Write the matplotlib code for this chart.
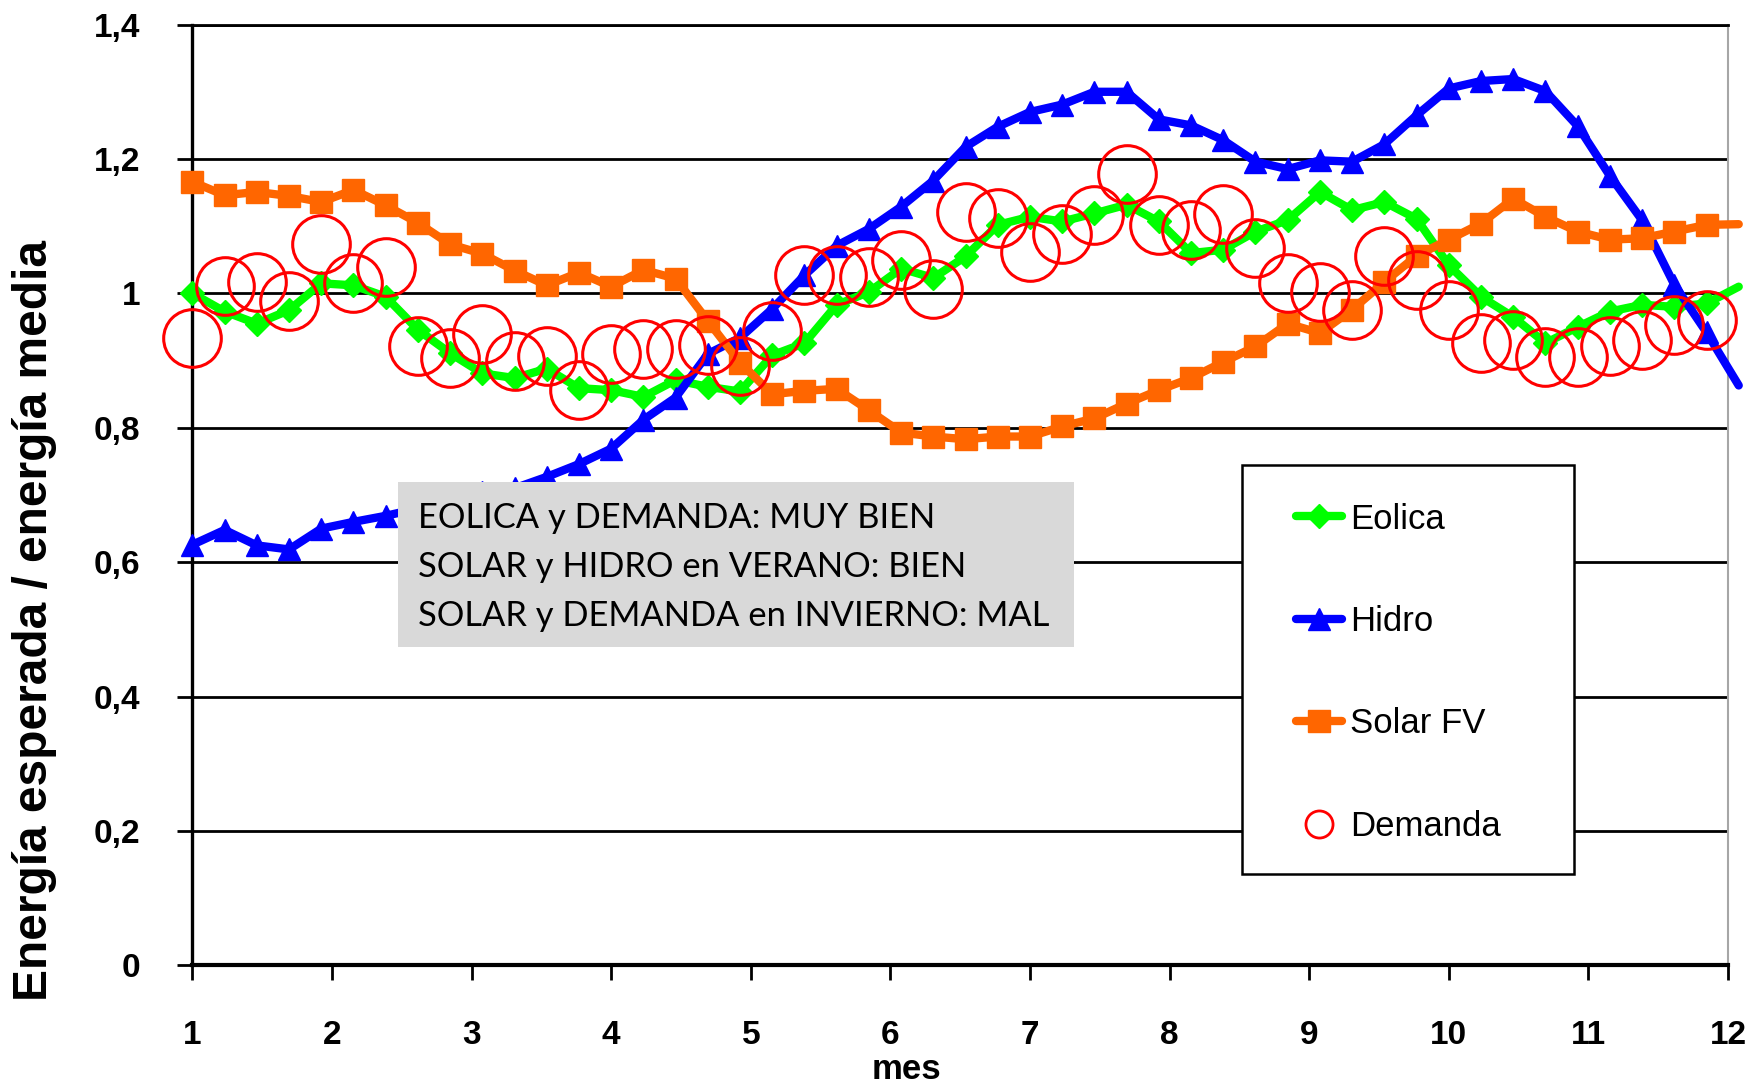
import numpy as np
import matplotlib
matplotlib.use("Agg")
import matplotlib.pyplot as plt
from matplotlib.lines import Line2D
from matplotlib.patches import Rectangle

# Weekly values (52 weeks per year) expressed on a month axis
semanas = np.arange(49)
meses = 1 + semanas * 12 / 52

eolica = [1.000, 0.973, 0.955, 0.975, 1.015, 1.012, 0.995, 0.946, 0.911, 0.881,
          0.874, 0.888, 0.859, 0.856, 0.846, 0.871, 0.861, 0.854, 0.908, 0.926,
          0.983, 1.002, 1.037, 1.023, 1.055, 1.102, 1.114, 1.107, 1.119, 1.132,
          1.107, 1.060, 1.065, 1.092, 1.109, 1.151, 1.124, 1.136, 1.111, 1.042,
          0.995, 0.965, 0.926, 0.950, 0.973, 0.983, 0.980, 0.985, 1.010]

hidro = [0.626, 0.648, 0.625, 0.619, 0.650, 0.660, 0.669, 0.680, 0.692, 0.705,
         0.710, 0.727, 0.746, 0.769, 0.812, 0.845, 0.910, 0.934, 0.977, 1.027,
         1.071, 1.096, 1.129, 1.168, 1.218, 1.248, 1.270, 1.281, 1.300, 1.300,
         1.259, 1.250, 1.228, 1.196, 1.185, 1.198, 1.196, 1.222, 1.265, 1.305,
         1.316, 1.319, 1.301, 1.249, 1.175, 1.109, 1.013, 0.942, 0.863]

solar_fv = [1.166, 1.146, 1.151, 1.145, 1.136, 1.154, 1.131, 1.105, 1.073, 1.059,
            1.034, 1.012, 1.031, 1.010, 1.035, 1.022, 0.959, 0.897, 0.850, 0.855,
            0.858, 0.826, 0.793, 0.787, 0.783, 0.787, 0.787, 0.802, 0.814, 0.836,
            0.856, 0.874, 0.898, 0.921, 0.955, 0.941, 0.976, 1.017, 1.056, 1.080,
            1.104, 1.141, 1.114, 1.092, 1.080, 1.082, 1.092, 1.102, 1.103]

demanda = [0.934, 1.011, 1.017, 0.989, 1.073, 1.016, 1.040, 0.921, 0.904, 0.939,
           0.899, 0.907, 0.856, 0.910, 0.917, 0.918, 0.923, 0.892, 0.944, 1.027,
           1.027, 1.025, 1.050, 1.006, 1.121, 1.112, 1.062, 1.089, 1.117, 1.177,
           1.102, 1.094, 1.118, 1.068, 1.016, 1.002, 0.975, 1.056, 1.020, 0.975,
           0.926, 0.931, 0.906, 0.906, 0.921, 0.931, 0.953, 0.960]

etiquetas = ["Eolica", "Hidro", "Solar FV", "Demanda"]
x_ticks = list(range(1, 13))
y_ticks = [0, 0.2, 0.4, 0.6, 0.8, 1.0, 1.2, 1.4]
y_tick_labels = ["0", "0,2", "0,4", "0,6", "0,8", "1", "1,2", "1,4"]
notas = ["EOLICA y DEMANDA: MUY BIEN",
         "SOLAR y HIDRO en VERANO: BIEN",
         "SOLAR y DEMANDA en INVIERNO: MAL"]

VERDE = "#00FF00"
AZUL = "#0000FF"
NARANJA = "#FF6600"
ROJO = "#FF0000"

plt.rcParams["font.family"] = ["Liberation Sans", "DejaVu Sans"]

fig = plt.figure(figsize=(17.54, 10.84), dpi=100)
ax = fig.add_axes([0.10969, 0.10941, 0.87548, 0.86790])

n_marcas = len(demanda)
estilo = dict(lw=6, solid_capstyle="round", solid_joinstyle="round",
              clip_on=False, markevery=list(range(n_marcas)), mew=1)

ax.plot(meses, eolica, color=VERDE, marker="D", ms=12.5, mec=VERDE, zorder=3, **estilo)
ax.plot(meses, hidro, color=AZUL, marker="^", ms=16.5, mec=AZUL, zorder=4, **estilo)
ax.plot(meses, solar_fv, color=NARANJA, marker="s", ms=16, mec=NARANJA, zorder=5, **estilo)
ax.plot(meses[:n_marcas], demanda, ls="none", marker="o", ms=41.5, mfc="none",
        mec=ROJO, mew=2.2, clip_on=False, zorder=6)

ax.set_xlim(1, 12)
ax.set_ylim(0, 1.4)
ax.set_xticks(x_ticks)
ax.set_xticklabels([str(m) for m in x_ticks])
ax.set_yticks(y_ticks)
ax.set_yticklabels(y_tick_labels)

for lbl in ax.get_xticklabels() + ax.get_yticklabels():
    lbl.set_fontweight("bold")
ax.tick_params(axis="both", direction="out", length=10.8, width=2, color="black",
               labelsize=24)
ax.tick_params(axis="x", pad=28.5)
ax.tick_params(axis="y", pad=27)

ax.yaxis.grid(True, color="black", lw=2)
ax.set_axisbelow(True)

ax.spines["left"].set_linewidth(2.4)
ax.spines["bottom"].set_linewidth(3)
ax.spines["top"].set_linewidth(2)
ax.spines["right"].set_color("#A6A6A6")
ax.spines["right"].set_linewidth(1.5)

ax.set_xlabel("mes", fontsize=25, fontweight="bold", va="top")
ax.xaxis.set_label_coords(0.4647, -0.0935)
ax.set_ylabel("Energía esperada / energía media", fontsize=34.5, fontweight="bold",
              va="center")
ax.yaxis.set_label_coords(-0.103, 0.3663)

# Grey comment box
ax.add_patch(Rectangle((0.1339, 0.3388), 0.4402, 0.1747, transform=ax.transAxes,
                       fc="#D9D9D9", ec="none", zorder=8, clip_on=False))
for nota, yb in zip(notas, [0.4646, 0.4132, 0.3608]):
    ax.text(0.1466, yb, nota, transform=ax.transAxes, family="Lato",
            fontsize=24.8, va="baseline", ha="left", color="black", zorder=9)

# Legend frame and entries
ax.add_patch(Rectangle((0.6833, 0.0968), 0.2164, 0.4351, transform=ax.transAxes,
                       fc="white", ec="black", lw=1.8, zorder=10, clip_on=False))
manejadores = [
    Line2D([], [], color=VERDE, lw=6, solid_capstyle="round", marker="D", ms=12.5, mec=VERDE),
    Line2D([], [], color=AZUL, lw=6, solid_capstyle="round", marker="^", ms=16.5, mec=AZUL),
    Line2D([], [], color=NARANJA, lw=6, solid_capstyle="round", marker="s", ms=16, mec=NARANJA),
    Line2D([], [], ls="none", marker="o", ms=19.5, mfc="none", mec=ROJO, mew=2),
]
leg = ax.legend(manejadores, etiquetas, loc="upper left", bbox_to_anchor=(0.7187, 0.492),
                frameon=False, borderpad=0, borderaxespad=0, handlelength=1.31,
                handletextpad=0.25, labelspacing=2.0, fontsize=25, numpoints=1)
leg.set_zorder(11)

fig.savefig("out.png", dpi=100)
